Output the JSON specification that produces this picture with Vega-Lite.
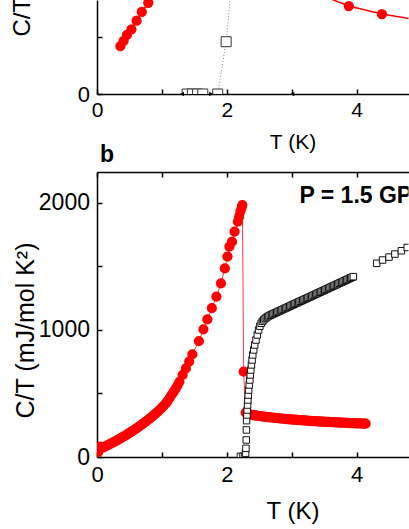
{
  "$schema": "https://vega.github.io/schema/vega-lite/v6.json",
  "autosize": {"type": "pad"},
  "padding": {"left": 10, "top": -3, "right": 0, "bottom": 0},
  "bounds": "flush",
  "spacing": 78,
  "config": {
    "view": {"stroke": null},
    "font": "Liberation Sans",
    "axis": {
      "grid": false,
      "domainColor": "black",
      "domainWidth": 1.5,
      "tickColor": "black",
      "tickWidth": 1.5,
      "tickSize": -5,
      "labelColor": "black",
      "titleColor": "black",
      "labelFont": "Liberation Sans",
      "titleFont": "Liberation Sans",
      "titleFontWeight": "normal",
      "labelFlush": false,
      "labelOverlap": false,
      "minExtent": 0
    }
  },
  "datasets": {
    "redA": [
      {"T": 0.36, "C": 421}, {"T": 0.41, "C": 467}, {"T": 0.46, "C": 518}, {"T": 0.53, "C": 567},
      {"T": 0.61, "C": 643}, {"T": 0.69, "C": 721}, {"T": 0.79, "C": 800}, {"T": 0.88, "C": 900},
      {"T": 3.4, "C": 880}, {"T": 3.88, "C": 772}, {"T": 4.39, "C": 702}, {"T": 4.9, "C": 655}
    ],
    "sqA": [
      {"T": 1.39, "C": 0}, {"T": 1.47, "C": 0}, {"T": 1.55, "C": 0}, {"T": 1.63, "C": 0},
      {"T": 1.86, "C": 0}, {"T": 1.99, "C": 459}, {"T": 2.13, "C": 1300}
    ],
    "arrL": [{"T": 1.31, "C": 0}, {"T": 3.01, "C": 0}],
    "arrR": [{"T": 1.76, "C": 0}],
    "label": [{"text": "P = 1.5 GPa"}],
    "redB": [
      {"T": 0.02, "C": 40}, {"T": 0.03, "C": 78}, {"T": 0.05, "C": 82}, {"T": 0.07, "C": 74},
      {"T": 0.10, "C": 76}, {"T": 0.13, "C": 83}, {"T": 0.16, "C": 91}, {"T": 0.19, "C": 99},
      {"T": 0.22, "C": 107}, {"T": 0.25, "C": 115}, {"T": 0.28, "C": 123}, {"T": 0.31, "C": 131},
      {"T": 0.34, "C": 140}, {"T": 0.37, "C": 149}, {"T": 0.40, "C": 158}, {"T": 0.43, "C": 167},
      {"T": 0.46, "C": 176}, {"T": 0.49, "C": 186}, {"T": 0.52, "C": 196}, {"T": 0.55, "C": 206},
      {"T": 0.58, "C": 216}, {"T": 0.61, "C": 226}, {"T": 0.64, "C": 237}, {"T": 0.67, "C": 248},
      {"T": 0.70, "C": 259}, {"T": 0.73, "C": 270}, {"T": 0.76, "C": 282}, {"T": 0.79, "C": 294},
      {"T": 0.82, "C": 306}, {"T": 0.85, "C": 318}, {"T": 0.88, "C": 331}, {"T": 0.91, "C": 345},
      {"T": 0.94, "C": 359}, {"T": 0.97, "C": 374}, {"T": 1.00, "C": 389}, {"T": 1.03, "C": 405},
      {"T": 1.06, "C": 422}, {"T": 1.09, "C": 442}, {"T": 1.12, "C": 465}, {"T": 1.15, "C": 490},
      {"T": 1.18, "C": 512}, {"T": 1.21, "C": 536}, {"T": 1.24, "C": 562}, {"T": 1.27, "C": 592},
      {"T": 1.32, "C": 646}, {"T": 1.37, "C": 698}, {"T": 1.42, "C": 751}, {"T": 1.47, "C": 809},
      {"T": 1.57, "C": 912}, {"T": 1.64, "C": 1005}, {"T": 1.70, "C": 1083}, {"T": 1.77, "C": 1172},
      {"T": 1.84, "C": 1262}, {"T": 1.91, "C": 1367}, {"T": 1.97, "C": 1485}, {"T": 2.01, "C": 1577},
      {"T": 2.04, "C": 1656}, {"T": 2.08, "C": 1695}, {"T": 2.12, "C": 1774}, {"T": 2.17, "C": 1853},
      {"T": 2.19, "C": 1892}, {"T": 2.21, "C": 1935}, {"T": 2.23, "C": 1965}, {"T": 2.24, "C": 1984},
      {"T": 2.26, "C": 672},
      {"T": 2.29, "C": 350}, {"T": 2.315, "C": 342}, {"T": 2.34, "C": 336}, {"T": 2.365, "C": 333},
      {"T": 2.39, "C": 331}, {"T": 2.415, "C": 329}, {"T": 2.44, "C": 327}, {"T": 2.465, "C": 325},
      {"T": 2.49, "C": 323}, {"T": 2.515, "C": 322}, {"T": 2.54, "C": 320}, {"T": 2.565, "C": 318},
      {"T": 2.59, "C": 317}, {"T": 2.615, "C": 315}, {"T": 2.64, "C": 314}, {"T": 2.665, "C": 312},
      {"T": 2.69, "C": 311}, {"T": 2.715, "C": 309}, {"T": 2.74, "C": 308}, {"T": 2.765, "C": 307},
      {"T": 2.79, "C": 305}, {"T": 2.815, "C": 304}, {"T": 2.84, "C": 303}, {"T": 2.865, "C": 301},
      {"T": 2.89, "C": 300}, {"T": 2.915, "C": 299}, {"T": 2.94, "C": 298}, {"T": 2.965, "C": 297},
      {"T": 2.99, "C": 296}, {"T": 3.015, "C": 295}, {"T": 3.04, "C": 294}, {"T": 3.065, "C": 293},
      {"T": 3.09, "C": 292}, {"T": 3.115, "C": 291}, {"T": 3.14, "C": 290}, {"T": 3.165, "C": 289},
      {"T": 3.19, "C": 288}, {"T": 3.215, "C": 287}, {"T": 3.24, "C": 286}, {"T": 3.265, "C": 285},
      {"T": 3.29, "C": 284}, {"T": 3.315, "C": 283}, {"T": 3.34, "C": 283}, {"T": 3.365, "C": 282},
      {"T": 3.39, "C": 281}, {"T": 3.415, "C": 280}, {"T": 3.44, "C": 279}, {"T": 3.465, "C": 279},
      {"T": 3.49, "C": 278}, {"T": 3.515, "C": 277}, {"T": 3.54, "C": 276}, {"T": 3.565, "C": 276},
      {"T": 3.59, "C": 275}, {"T": 3.615, "C": 274}, {"T": 3.64, "C": 274}, {"T": 3.665, "C": 273},
      {"T": 3.69, "C": 272}, {"T": 3.715, "C": 272}, {"T": 3.74, "C": 271}, {"T": 3.765, "C": 270},
      {"T": 3.79, "C": 270}, {"T": 3.815, "C": 269}, {"T": 3.84, "C": 269}, {"T": 3.865, "C": 268},
      {"T": 3.89, "C": 267}, {"T": 3.915, "C": 267}, {"T": 3.94, "C": 266}, {"T": 3.965, "C": 266},
      {"T": 3.99, "C": 265}, {"T": 4.015, "C": 265}, {"T": 4.04, "C": 264}, {"T": 4.065, "C": 264},
      {"T": 4.09, "C": 263}, {"T": 4.115, "C": 263}, {"T": 4.14, "C": 262}
    ],
    "sqB": [
      {"T": 2.21, "C": 5}, {"T": 2.25, "C": 5}, {"T": 2.28, "C": 6},
      {"T": 2.29, "C": 30}, {"T": 2.295, "C": 68}, {"T": 2.30, "C": 134}, {"T": 2.302, "C": 213},
      {"T": 2.305, "C": 286}, {"T": 2.31, "C": 331}, {"T": 2.315, "C": 370}, {"T": 2.32, "C": 409},
      {"T": 2.325, "C": 449}, {"T": 2.33, "C": 488}, {"T": 2.337, "C": 527}, {"T": 2.345, "C": 567},
      {"T": 2.355, "C": 606}, {"T": 2.362, "C": 646}, {"T": 2.37, "C": 685}, {"T": 2.38, "C": 725},
      {"T": 2.39, "C": 764}, {"T": 2.40, "C": 804}, {"T": 2.415, "C": 843}, {"T": 2.43, "C": 882},
      {"T": 2.45, "C": 921}, {"T": 2.47, "C": 961}, {"T": 2.49, "C": 1000}, {"T": 2.51, "C": 1030},
      {"T": 2.53, "C": 1053}, {"T": 2.55, "C": 1068}, {"T": 2.57, "C": 1080}, {"T": 2.59, "C": 1090},
      {"T": 2.61, "C": 1098}, {"T": 2.63, "C": 1105}, {"T": 2.65, "C": 1111}, {"T": 2.67, "C": 1116},
      {"T": 2.69, "C": 1121}, {"T": 2.71, "C": 1126}, {"T": 2.73, "C": 1131}, {"T": 2.75, "C": 1135},
      {"T": 2.77, "C": 1140}, {"T": 2.79, "C": 1145}, {"T": 2.81, "C": 1150}, {"T": 2.83, "C": 1154},
      {"T": 2.85, "C": 1159}, {"T": 2.87, "C": 1164}, {"T": 2.89, "C": 1169}, {"T": 2.91, "C": 1173},
      {"T": 2.93, "C": 1178}, {"T": 2.95, "C": 1183}, {"T": 2.97, "C": 1188}, {"T": 2.99, "C": 1192},
      {"T": 3.01, "C": 1197}, {"T": 3.03, "C": 1202}, {"T": 3.05, "C": 1207}, {"T": 3.07, "C": 1211},
      {"T": 3.09, "C": 1216}, {"T": 3.11, "C": 1221}, {"T": 3.13, "C": 1226}, {"T": 3.15, "C": 1230},
      {"T": 3.17, "C": 1235}, {"T": 3.19, "C": 1240}, {"T": 3.21, "C": 1244}, {"T": 3.23, "C": 1249},
      {"T": 3.25, "C": 1254}, {"T": 3.27, "C": 1259}, {"T": 3.29, "C": 1263}, {"T": 3.31, "C": 1268},
      {"T": 3.33, "C": 1273}, {"T": 3.35, "C": 1278}, {"T": 3.37, "C": 1282}, {"T": 3.39, "C": 1287},
      {"T": 3.41, "C": 1292}, {"T": 3.43, "C": 1297}, {"T": 3.45, "C": 1301}, {"T": 3.47, "C": 1306},
      {"T": 3.49, "C": 1311}, {"T": 3.51, "C": 1316}, {"T": 3.53, "C": 1320}, {"T": 3.55, "C": 1325},
      {"T": 3.57, "C": 1330}, {"T": 3.59, "C": 1335}, {"T": 3.61, "C": 1339}, {"T": 3.63, "C": 1344},
      {"T": 3.65, "C": 1349}, {"T": 3.67, "C": 1354}, {"T": 3.69, "C": 1358}, {"T": 3.71, "C": 1363},
      {"T": 3.73, "C": 1368}, {"T": 3.75, "C": 1373}, {"T": 3.77, "C": 1377}, {"T": 3.79, "C": 1382},
      {"T": 3.81, "C": 1387}, {"T": 3.83, "C": 1392}, {"T": 3.85, "C": 1396}, {"T": 3.87, "C": 1401},
      {"T": 3.89, "C": 1406}, {"T": 3.91, "C": 1411}, {"T": 3.93, "C": 1415}, {"T": 3.95, "C": 1420},
      {"T": 4.31, "C": 1525}, {"T": 4.40, "C": 1551}, {"T": 4.50, "C": 1574}, {"T": 4.59, "C": 1598},
      {"T": 4.69, "C": 1624}, {"T": 4.78, "C": 1650}, {"T": 4.87, "C": 1672}
    ]
  },
  "vconcat": [
    {
      "width": 311.5,
      "height": 94,
      "encoding": {
        "x": {
          "field": "T", "type": "quantitative",
          "scale": {"domain": [0, 4.8], "nice": false, "zero": false},
          "axis": {
            "values": [0, 1, 2, 3, 4],
            "labelExpr": "datum.value % 2 === 0 ? datum.label : ''",
            "title": "T (K)",
            "labelFontSize": 21, "labelPadding": 10.8,
            "titleFontSize": 21, "titleX": 195.5, "titleY": 54.5,
            "titleBaseline": "alphabetic", "titleAlign": "center"
          }
        },
        "y": {
          "field": "C", "type": "quantitative",
          "scale": {"domain": [0, 825], "nice": false, "zero": false},
          "axis": {
            "values": [0, 500],
            "labelExpr": "datum.value === 0 ? datum.label : ''",
            "title": "C/T",
            "labelFontSize": 22, "labelPadding": 12.5,
            "titleFontSize": 24, "titleX": -67.5, "titleY": 36,
            "titleAngle": -90, "titleAlign": "left", "titleBaseline": "alphabetic"
          }
        }
      },
      "layer": [
        {"data": {"name": "sqA"}, "mark": {"type": "line", "color": "#888888", "strokeWidth": 1, "strokeDash": [1, 2], "clip": true}},
        {"data": {"name": "sqA"}, "mark": {"type": "point", "shape": "square", "filled": true, "fill": "white", "stroke": "#333333", "strokeWidth": 1, "size": 100, "opacity": 1, "clip": true}},
        {"data": {"name": "redA"}, "mark": {"type": "line", "color": "#ff0000", "strokeWidth": 1.5, "clip": true}},
        {"data": {"name": "redA"}, "mark": {"type": "circle", "color": "#ff0000", "size": 105, "opacity": 1, "clip": true}},
        {"data": {"name": "arrL"}, "mark": {"type": "point", "shape": "triangle-left", "filled": true, "color": "black", "size": 20, "opacity": 1}},
        {"data": {"name": "arrR"}, "mark": {"type": "point", "shape": "triangle-right", "filled": true, "color": "black", "size": 20, "opacity": 1}}
      ]
    },
    {
      "width": 311.5,
      "height": 285,
      "title": {"text": "b", "anchor": "start", "frame": "group", "fontSize": 23, "fontWeight": "bold", "font": "Liberation Sans", "color": "black", "offset": -14, "dx": 3, "baseline": "alphabetic"},
      "layer": [
        {
          "data": {"name": "redB"},
          "mark": {"type": "line", "color": "#ff4040", "strokeWidth": 1, "clip": true},
          "encoding": {
            "x": {"field": "T", "type": "quantitative", "scale": {"domain": [0, 4.8], "nice": false, "zero": false}, "axis": null},
            "y": {
              "field": "C", "type": "quantitative",
              "scale": {"domain": [0, 2244], "nice": false, "zero": false},
              "axis": {
                "values": [0, 500, 1000, 1500, 2000], "format": "d",
                "labelExpr": "datum.value % 1000 === 0 ? datum.label : ''",
                "title": "C/T (mJ/mol K²)",
                "labelFontSize": 23, "labelPadding": 12.5,
                "titleFontSize": 25, "titleX": -64, "titleY": 158,
                "titleAngle": -90, "titleAlign": "center", "titleBaseline": "alphabetic"
              }
            }
          }
        },
        {
          "data": {"name": "redB"},
          "mark": {"type": "circle", "color": "#ff0000", "size": 104, "opacity": 1, "clip": true},
          "encoding": {
            "x": {
              "field": "T", "type": "quantitative",
              "scale": {"domain": [0, 4.8], "nice": false, "zero": false},
              "axis": {
                "orient": "bottom",
                "values": [0, 1, 2, 3, 4],
                "labelExpr": "datum.value % 2 === 0 ? datum.label : ''",
                "title": "T (K)",
                "labelFontSize": 22, "labelPadding": 12.8,
                "titleFontSize": 24, "titleX": 195.5, "titleY": 61.5,
                "titleBaseline": "alphabetic", "titleAlign": "center"
              }
            },
            "y": {
              "field": "C", "type": "quantitative",
              "scale": {"domain": [0, 2244], "nice": false, "zero": false},
              "axis": {
                "values": [0, 500, 1000, 1500, 2000], "format": "d",
                "labelExpr": "datum.value % 1000 === 0 ? datum.label : ''",
                "title": "C/T (mJ/mol K²)",
                "labelFontSize": 23, "labelPadding": 12.5,
                "titleFontSize": 25, "titleX": -64, "titleY": 158,
                "titleAngle": -90, "titleAlign": "center", "titleBaseline": "alphabetic"
              }
            }
          }
        },
        {
          "data": {"name": "sqB"},
          "mark": {"type": "point", "shape": "square", "filled": true, "fill": "white", "stroke": "#111111", "strokeWidth": 1, "size": 42, "opacity": 1, "clip": true},
          "encoding": {
            "x": {"field": "T", "type": "quantitative", "scale": {"domain": [0, 4.8], "nice": false, "zero": false}, "axis": null},
            "y": {
              "field": "C", "type": "quantitative",
              "scale": {"domain": [0, 2244], "nice": false, "zero": false},
              "axis": {
                "values": [0, 500, 1000, 1500, 2000], "format": "d",
                "labelExpr": "datum.value % 1000 === 0 ? datum.label : ''",
                "title": "C/T (mJ/mol K²)",
                "labelFontSize": 23, "labelPadding": 12.5,
                "titleFontSize": 25, "titleX": -64, "titleY": 158,
                "titleAngle": -90, "titleAlign": "center", "titleBaseline": "alphabetic"
              }
            }
          }
        },
        {
          "data": {"name": "sqB"},
          "mark": {"type": "point", "opacity": 0, "clip": true},
          "encoding": {
            "x": {
              "field": "T", "type": "quantitative",
              "scale": {"domain": [0, 4.8], "nice": false, "zero": false},
              "axis": {"orient": "top", "values": [0, 1, 2, 3, 4], "labels": false, "title": null, "minExtent": 0, "maxExtent": 0}
            },
            "y": {
              "field": "C", "type": "quantitative",
              "scale": {"domain": [0, 2244], "nice": false, "zero": false},
              "axis": {
                "values": [0, 500, 1000, 1500, 2000], "format": "d",
                "labelExpr": "datum.value % 1000 === 0 ? datum.label : ''",
                "title": "C/T (mJ/mol K²)",
                "labelFontSize": 23, "labelPadding": 12.5,
                "titleFontSize": 25, "titleX": -64, "titleY": 158,
                "titleAngle": -90, "titleAlign": "center", "titleBaseline": "alphabetic"
              }
            }
          }
        },
        {
          "data": {"name": "label"},
          "mark": {"type": "text", "font": "Liberation Sans", "fontSize": 23, "fontWeight": "bold", "color": "black", "align": "left", "baseline": "alphabetic", "clip": true},
          "encoding": {
            "text": {"field": "text", "type": "nominal"},
            "x": {"datum": 3.12, "type": "quantitative", "scale": {"domain": [0, 4.8], "nice": false, "zero": false}, "axis": null},
            "y": {
              "datum": 2000, "type": "quantitative",
              "scale": {"domain": [0, 2244], "nice": false, "zero": false},
              "axis": {
                "values": [0, 500, 1000, 1500, 2000], "format": "d",
                "labelExpr": "datum.value % 1000 === 0 ? datum.label : ''",
                "title": "C/T (mJ/mol K²)",
                "labelFontSize": 23, "labelPadding": 12.5,
                "titleFontSize": 25, "titleX": -64, "titleY": 158,
                "titleAngle": -90, "titleAlign": "center", "titleBaseline": "alphabetic"
              }
            }
          }
        }
      ],
      "resolve": {"axis": {"x": "independent"}}
    }
  ]
}
